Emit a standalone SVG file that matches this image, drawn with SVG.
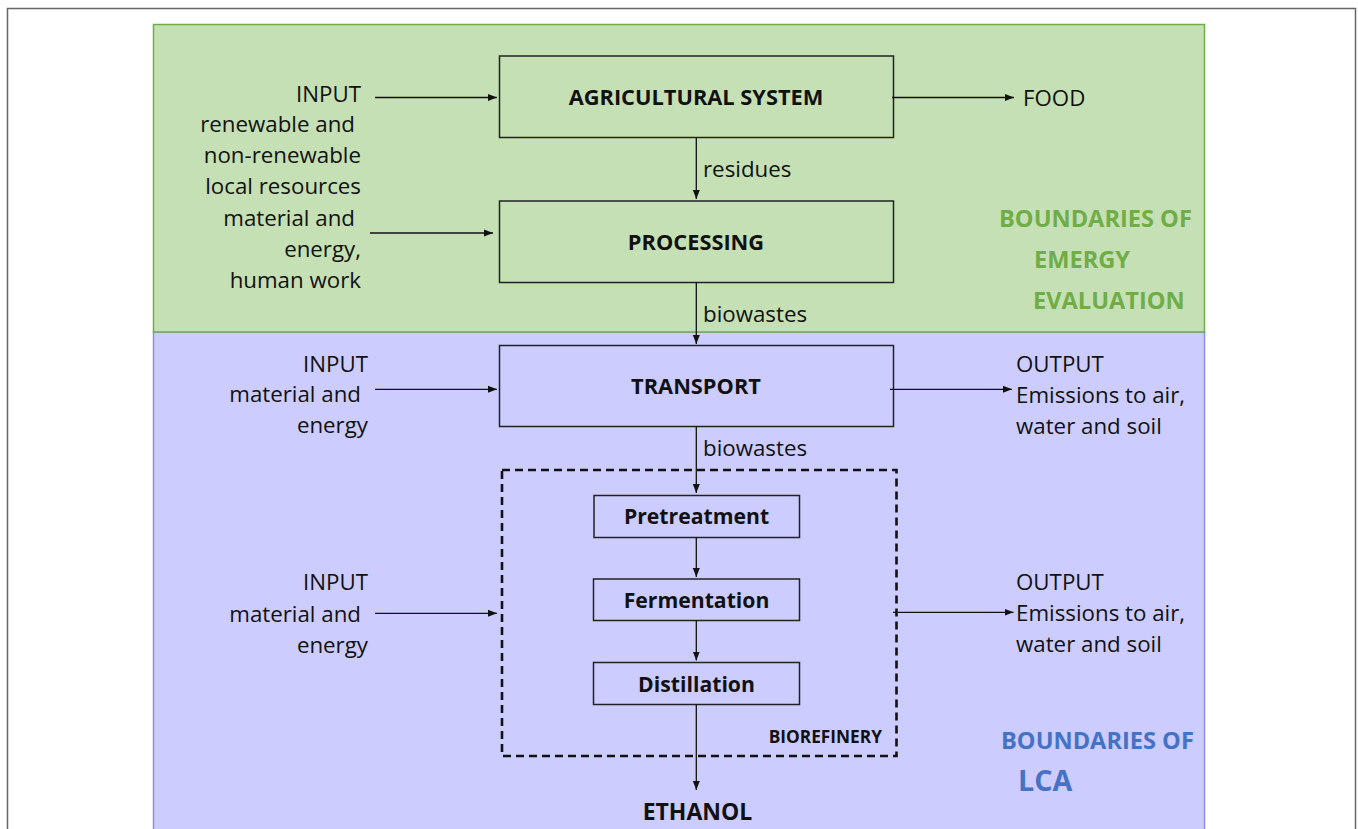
<svg xmlns="http://www.w3.org/2000/svg" width="1358" height="829" viewBox="0 0 1358 829">
<defs>
<marker id="ah" markerUnits="userSpaceOnUse" markerWidth="10" markerHeight="8" refX="9" refY="4" orient="auto">
<path d="M0,0.5 L9,4 L0,7.5 Z" fill="#111"/>
</marker>
<style>
text{font-family:"Open Sans","Liberation Sans",Arial,sans-serif;fill:#111}
.t{font-size:22.3px}
.r{text-anchor:end}
.b{font-weight:bold}
.box{fill:none;stroke:#222;stroke-width:1.5}
.c{stroke:#111;stroke-width:1.3;fill:none;marker-end:url(#ah)}
</style>
</defs>
<rect x="0" y="0" width="1358" height="829" fill="#fff"/>
<rect x="7.5" y="8.5" width="1348" height="830" fill="none" stroke="#666" stroke-width="1.5"/>

<g id="lca-boundary">
<rect x="153.5" y="332" width="1051" height="510" fill="#CCCCFF" stroke="#8C8CF0" stroke-width="1.5"/>
<text class="b" x="1001" y="749" font-size="23.6" style="fill:#4472C4">BOUNDARIES OF</text>
<text class="b" x="1018" y="790.5" font-size="28.7" style="fill:#4472C4">LCA</text>
</g>
<g id="emergy-boundary">
<rect x="153.5" y="24.5" width="1051" height="307.5" fill="#C5E0B4" stroke="#70AD47" stroke-width="1.5"/>
<text class="b" x="999" y="226.7" font-size="23.6" style="fill:#70AD47">BOUNDARIES OF</text>
<text class="b" x="1034" y="268.3" font-size="23.6" style="fill:#70AD47">EMERGY</text>
<text class="b" x="1033" y="309.3" font-size="23.6" style="fill:#70AD47">EVALUATION</text>
</g>

<g id="input-1">
<text class="t r" x="361" y="101.7">INPUT</text>
<text class="t r" x="355" y="131.7">renewable and</text>
<text class="t r" x="361" y="163">non-renewable</text>
<text class="t r" x="361" y="194.3">local resources</text>
<text class="t r" x="355" y="225.7">material and</text>
<text class="t r" x="361" y="257">energy,</text>
<text class="t r" x="361" y="288">human work</text>
</g>

<g id="agricultural-system">
<rect class="box" x="499.5" y="56" width="394" height="81.5"/>
<text class="b" x="696" y="105" font-size="21.8" text-anchor="middle">AGRICULTURAL SYSTEM</text>
</g>
<g id="food">
<text class="t" x="1023" y="105.7">FOOD</text>
</g>
<g id="processing">
<rect class="box" x="499.5" y="201" width="394" height="81.5"/>
<text class="b" x="696" y="250" font-size="21.8" text-anchor="middle">PROCESSING</text>
</g>
<g id="transport">
<rect class="box" x="499.5" y="345.5" width="394" height="81"/>
<text class="b" x="696" y="394" font-size="21.8" text-anchor="middle">TRANSPORT</text>
</g>

<g id="input-2">
<text class="t r" x="368" y="371.7">INPUT</text>
<text class="t r" x="361" y="401.7">material and</text>
<text class="t r" x="368" y="433">energy</text>
</g>
<g id="output-1">
<text class="t" x="1016" y="372">OUTPUT</text>
<text class="t" x="1016" y="403">Emissions to air,</text>
<text class="t" x="1016" y="434">water and soil</text>
</g>

<g id="biorefinery">
<rect x="502" y="470" width="394.5" height="286" fill="none" stroke="#111" stroke-width="2.6" stroke-dasharray="8,5"/>
<text class="b" x="882" y="742.7" font-size="17.3" text-anchor="end">BIOREFINERY</text>
</g>
<g id="pretreatment">
<rect class="box" x="594" y="495.5" width="205.5" height="42"/>
<text class="b" x="696.5" y="524" font-size="21.2" text-anchor="middle">Pretreatment</text>
</g>
<g id="fermentation">
<rect class="box" x="593.5" y="579" width="206" height="41.5"/>
<text class="b" x="696.5" y="607.7" font-size="21.2" text-anchor="middle">Fermentation</text>
</g>
<g id="distillation">
<rect class="box" x="593.5" y="662.5" width="206" height="42"/>
<text class="b" x="696.5" y="691.7" font-size="21.2" text-anchor="middle">Distillation</text>
</g>

<g id="input-3">
<text class="t r" x="368" y="590">INPUT</text>
<text class="t r" x="361" y="621.7">material and</text>
<text class="t r" x="368" y="653">energy</text>
</g>
<g id="output-2">
<text class="t" x="1016" y="590">OUTPUT</text>
<text class="t" x="1016" y="621">Emissions to air,</text>
<text class="t" x="1016" y="651.7">water and soil</text>
</g>
<g id="ethanol">
<text class="b" x="697.5" y="820" font-size="23" text-anchor="middle">ETHANOL</text>
</g>

<g id="connectors">
<line class="c" x1="375" y1="97.5" x2="497" y2="97.5"/>
<line class="c" x1="370" y1="233" x2="493" y2="233"/>
<line class="c" x1="892" y1="97.5" x2="1014" y2="97.5"/>
<line class="c" x1="696.3" y1="137.5" x2="696.3" y2="199"/>
<text class="t" x="703" y="176.7">residues</text>
<line class="c" x1="696.3" y1="282.5" x2="696.3" y2="344"/>
<text class="t" x="703" y="321.7">biowastes</text>
<line class="c" x1="375" y1="389.3" x2="497" y2="389.3"/>
<line class="c" x1="890" y1="389.3" x2="1012" y2="389.3"/>
<line class="c" x1="696.3" y1="426.5" x2="696.3" y2="493"/>
<text class="t" x="703" y="456">biowastes</text>
<line class="c" x1="696.3" y1="537.5" x2="696.3" y2="577"/>
<line class="c" x1="696.3" y1="620.5" x2="696.3" y2="660.5"/>
<line class="c" x1="696.3" y1="704.5" x2="696.3" y2="790"/>
<line class="c" x1="375" y1="613.3" x2="497" y2="613.3"/>
<line class="c" x1="893" y1="612.3" x2="1013.5" y2="612.3"/>
</g>
</svg>
